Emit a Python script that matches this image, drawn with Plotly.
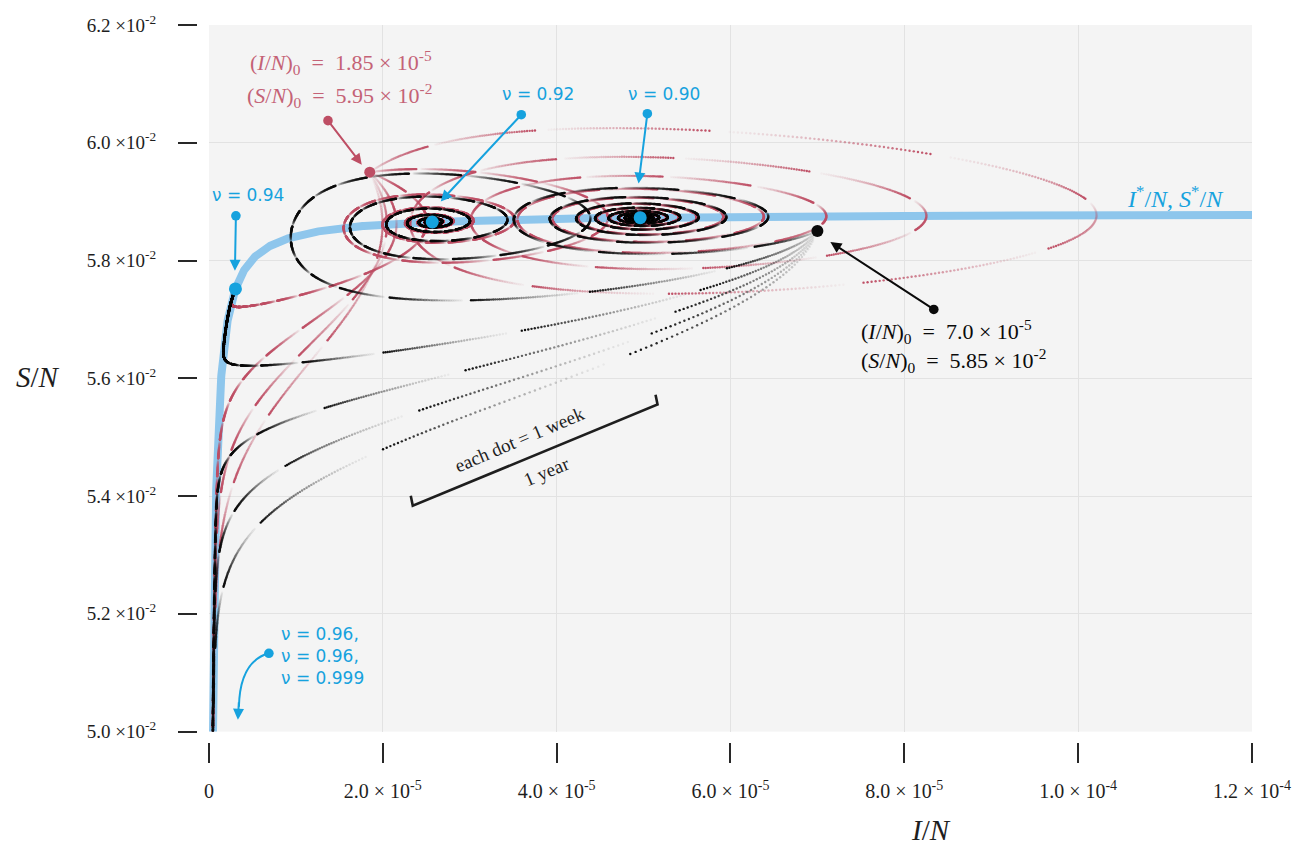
import numpy as np
import plotly.graph_objects as go

# ---------------------------------------------------------------
# SIR model with vaccination at birth (fraction nu) and a small
# constant import of infections.  Rates are per year.
# ---------------------------------------------------------------
MU = 0.02          # birth / death rate
BETA = 283.3       # transmission rate
GAMMA = 16.64      # recovery rate
IMPORT = 1.113e-6  # imported infections

NU_VALUES = [0.90, 0.92, 0.94, 0.96, 0.98, 0.999]
NU_MARKED = [0.90, 0.92, 0.94]

START_PINK = (1.85e-5, 5.95e-2)    # (I/N)_0, (S/N)_0
START_BLACK = (7.0e-5, 5.85e-2)

YEARS = 200
WEEKS_PER_YEAR = 52

X_TICKS = [0, 2e-5, 4e-5, 6e-5, 8e-5, 1e-4, 1.2e-4]
X_TICK_TEXT = ["0", "2.0 × 10<sup>-5</sup>", "4.0 × 10<sup>-5</sup>",
               "6.0 × 10<sup>-5</sup>", "8.0 × 10<sup>-5</sup>",
               "1.0 × 10<sup>-4</sup>", "1.2 × 10<sup>-4</sup>"]
Y_TICKS = [0.050, 0.052, 0.054, 0.056, 0.058, 0.060, 0.062]
Y_TICK_TEXT = ["5.0 ×10<sup>-2</sup>", "5.2 ×10<sup>-2</sup>", "5.4 ×10<sup>-2</sup>",
               "5.6 ×10<sup>-2</sup>", "5.8 ×10<sup>-2</sup>", "6.0 ×10<sup>-2</sup>",
               "6.2 ×10<sup>-2</sup>"]

X_RANGE = [0, 1.2e-4]
Y_RANGE = [0.050, 0.062]

PINK = "rgb(190,78,100)"
PINK_TEXT = "rgb(196,98,118)"
BLACK = "rgb(10,10,10)"
BLUE = "rgb(22,162,222)"
BLUE_LINE = "rgb(142,198,236)"
TEXT = "rgb(30,30,30)"
SERIF = "Liberation Serif, Times New Roman, serif"
NU_FONT = "DejaVu Sans, sans-serif"

S_INF = (GAMMA + MU) / BETA
C_IMP = IMPORT / BETA


def rhs(S, I, nu):
    inf = BETA * S * I
    return MU * (1 - nu) - inf - MU * S, inf - (GAMMA + MU) * I + IMPORT


def simulate(nus, s0, i0, years, sub=4):
    """RK4 integration, state recorded once per week."""
    nus = np.asarray(nus, float)
    h = 1.0 / (WEEKS_PER_YEAR * sub)
    n = years * WEEKS_PER_YEAR
    S = np.asarray(s0, float).copy()
    I = np.asarray(i0, float).copy()
    out_S = np.empty((n + 1, len(nus)))
    out_I = np.empty((n + 1, len(nus)))
    out_S[0], out_I[0] = S, I
    for k in range(1, n + 1):
        for _ in range(sub):
            a1, b1 = rhs(S, I, nus)
            a2, b2 = rhs(S + 0.5 * h * a1, I + 0.5 * h * b1, nus)
            a3, b3 = rhs(S + 0.5 * h * a2, I + 0.5 * h * b2, nus)
            a4, b4 = rhs(S + h * a3, I + h * b3, nus)
            S = S + h / 6 * (a1 + 2 * a2 + 2 * a3 + a4)
            I = I + h / 6 * (b1 + 2 * b2 + 2 * b3 + b4)
        out_S[k], out_I[k] = S, I
    return out_S, out_I


def equilibrium(nu):
    """Endemic equilibrium (I*, S*) by bisection on I."""
    lo, hi = C_IMP / S_INF * 1.0000001, 1e-3
    for _ in range(200):
        mid = 0.5 * (lo + hi)
        s = S_INF - C_IMP / mid
        g = mid * s - (MU / BETA) * (1 - nu - s)
        if g > 0:
            hi = mid
        else:
            lo = mid
    i = 0.5 * (lo + hi)
    return i, S_INF - C_IMP / i


# pixel scale of the plot area, used to skip dots hidden under the equilibrium markers
PX_X = 1044 / (X_RANGE[1] - X_RANGE[0])
PX_Y = 713 / (Y_RANGE[1] - Y_RANGE[0])

nus_all = NU_VALUES + NU_VALUES
s0_all = [START_PINK[1]] * len(NU_VALUES) + [START_BLACK[1]] * len(NU_VALUES)
i0_all = [START_PINK[0]] * len(NU_VALUES) + [START_BLACK[0]] * len(NU_VALUES)
S_runs, I_runs = simulate(nus_all, s0_all, i0_all, YEARS)

# each year fades in from transparent to full colour
weeks = np.arange(S_runs.shape[0])
phase = (weeks % WEEKS_PER_YEAR + 1) / WEEKS_PER_YEAR
alpha_all = phase ** 1.3

eq_points = {nu: equilibrium(nu) for nu in NU_VALUES}

fig = go.Figure()

# equilibrium locus I*/N, S*/N (I-nullcline)
i_curve = np.geomspace(C_IMP / (S_INF - Y_RANGE[0] + 0.0005), X_RANGE[1], 600)
s_curve = S_INF - C_IMP / i_curve
fig.add_trace(go.Scatter(x=i_curve, y=s_curve, mode="lines",
                         line=dict(color=BLUE_LINE, width=8),
                         hoverinfo="skip", showlegend=False))

# weekly dots of each trajectory: pink runs first, black on top
for j in range(len(nus_all)):
    nu = nus_all[j]
    colour = PINK if j < len(NU_VALUES) else BLACK
    x = I_runs[:, j]
    y = S_runs[:, j]
    keep = (x >= X_RANGE[0]) & (x <= X_RANGE[1]) & (y >= Y_RANGE[0]) & (y <= Y_RANGE[1])
    keep &= alpha_all > 0.04
    if nu in NU_MARKED:
        ei, es = eq_points[nu]
        dist = np.hypot((x - ei) * PX_X, (y - es) * PX_Y)
        keep &= dist > 5
    fig.add_trace(go.Scatter(
        x=x[keep], y=y[keep], mode="markers",
        marker=dict(size=2.4, color=colour, opacity=alpha_all[keep], line=dict(width=0)),
        hoverinfo="skip", showlegend=False))

# equilibria and initial conditions
fig.add_trace(go.Scatter(x=[eq_points[nu][0] for nu in NU_MARKED],
                         y=[eq_points[nu][1] for nu in NU_MARKED],
                         mode="markers", marker=dict(size=13, color=BLUE),
                         hoverinfo="skip", showlegend=False))
fig.add_trace(go.Scatter(x=[START_PINK[0]], y=[START_PINK[1]], mode="markers",
                         marker=dict(size=11, color=PINK),
                         hoverinfo="skip", showlegend=False))
fig.add_trace(go.Scatter(x=[START_BLACK[0]], y=[START_BLACK[1]], mode="markers",
                         marker=dict(size=12, color=BLACK),
                         hoverinfo="skip", showlegend=False))

# page geometry
W, H = 1303, 856
ML, MR, MT, MB = 150, 50, 18, 60
PW, PH = W - ML - MR, H - MT - MB


# helpers placing annotations by pixel position on the page
def px(v):
    return X_RANGE[0] + (v - 209) / PX_X


def py(v):
    return Y_RANGE[1] - (v - 18) / PX_Y


def paper_x(v):
    return (v - ML) / PW


def paper_y(v):
    return (H - MB - v) / PH


annotations = []


def label(text, x, y, colour, size=20, xanchor="center", angle=0, family=SERIF):
    annotations.append(dict(text=text, x=paper_x(x), y=paper_y(y), xref="paper", yref="paper",
                            showarrow=False, xanchor=xanchor, yanchor="middle",
                            textangle=angle, align="left",
                            font=dict(family=family, size=size, color=colour)))


def arrow(tail, head, colour, width=2.0):
    annotations.append(dict(text="", x=px(head[0]), y=py(head[1]),
                            ax=px(tail[0]), ay=py(tail[1]), xref="x", yref="y",
                            axref="x", ayref="y", showarrow=True,
                            arrowhead=2, arrowsize=1.1, arrowwidth=width,
                            arrowcolor=colour, arrowside="end+start",
                            startarrowhead=6, startarrowsize=1.2, standoff=0, startstandoff=0))


label("(<i>I</i>/<i>N</i>)<sub>0</sub>  =  1.85 × 10<sup>-5</sup>", 248, 56, PINK_TEXT, size=22, xanchor="left")
label("(<i>S</i>/<i>N</i>)<sub>0</sub>  =  5.95 × 10<sup>-2</sup>", 245, 89, PINK_TEXT, size=22, xanchor="left")
arrow((327, 113), (362, 159), PINK)

label("ν = 0.92", 538, 88, BLUE, size=17, family=NU_FONT)
arrow((523, 107), (441, 196), BLUE)
label("ν = 0.90", 664, 88, BLUE, size=17, family=NU_FONT)
arrow((648, 106), (639, 178), BLUE)
label("ν = 0.94", 248, 190, BLUE, size=17, family=NU_FONT)
arrow((236, 209), (235, 266), BLUE)
label("ν = 0.96,<br>ν = 0.96,<br>ν = 0.999", 279, 655, BLUE, size=17, xanchor="left", family=NU_FONT)
annotations.append(dict(text="", x=px(238), y=py(719), ax=px(239), ay=py(700),
                        xref="x", yref="y", axref="x", ayref="y", showarrow=True,
                        arrowhead=2, arrowsize=1.1, arrowwidth=2, arrowcolor=BLUE))
annotations.append(dict(text="", x=px(269), y=py(652), ax=px(269), ay=py(652),
                        xref="x", yref="y", axref="x", ayref="y", showarrow=True,
                        arrowhead=0, arrowwidth=2, arrowcolor=BLUE,
                        arrowside="start", startarrowhead=6, startarrowsize=1.2))

label("<i>I</i><sup>*</sup>/<i>N</i>, <i>S</i><sup>*</sup>/<i>N</i>", 1176, 192, BLUE, size=24)

label("(<i>I</i>/<i>N</i>)<sub>0</sub>  =  7.0 × 10<sup>-5</sup>", 860, 327, BLACK, size=22, xanchor="left")
label("(<i>S</i>/<i>N</i>)<sub>0</sub>  =  5.85 × 10<sup>-2</sup>", 860, 357, BLACK, size=22, xanchor="left")
arrow((936, 306), (831, 237), BLACK)

label("each dot = 1 week", 520, 436, TEXT, size=19, angle=-23)
label("1 year", 547, 469, TEXT, size=19, angle=-23)

label("<i>S</i>/<i>N</i>", 38, 373, TEXT, size=29)
label("<i>I</i>/<i>N</i>", 932, 830, TEXT, size=29)

shapes = [
    # one-year bracket
    dict(type="path", xref="x", yref="y",
         path=f"M {px(411)},{py(493)} L {px(413)},{py(503)} L {px(658)},{py(401)} L {px(656)},{py(391)}",
         line=dict(color=TEXT, width=2.6)),
    # curved pointer towards the equilibria below the axis range
    dict(type="path", xref="x", yref="y",
         path=f"M {px(269)},{py(652)} Q {px(240)},{py(660)} {px(239)},{py(706)}",
         line=dict(color=BLUE, width=2)),
]

fig.update_layout(
    width=W, height=H,
    margin=dict(l=ML, r=MR, t=MT, b=MB),
    paper_bgcolor="white", plot_bgcolor="rgb(244,244,244)",
    showlegend=False,
    annotations=annotations, shapes=shapes,
    xaxis=dict(range=X_RANGE, domain=[(209 - ML) / PW, 1],
               anchor="free", position=(H - MB - 742) / PH,
               tickvals=X_TICKS, ticktext=X_TICK_TEXT,
               ticks="outside", ticklen=20, tickwidth=1.5, tickcolor="rgb(40,40,40)",
               ticklabelstandoff=11,
               showline=False, zeroline=False,
               showgrid=True, gridcolor="rgb(226,226,226)", gridwidth=1,
               tickfont=dict(family=SERIF, size=20, color=TEXT)),
    yaxis=dict(range=Y_RANGE, domain=[(H - MB - 731) / PH, 1],
               anchor="free", position=(197 - ML) / PW,
               tickvals=Y_TICKS, ticktext=Y_TICK_TEXT,
               ticks="outside", ticklen=19, tickwidth=1.5, tickcolor="rgb(40,40,40)",
               ticklabelstandoff=18,
               showline=False, zeroline=False,
               showgrid=True, gridcolor="rgb(226,226,226)", gridwidth=1,
               tickfont=dict(family=SERIF, size=19, color=TEXT)),
)

fig.write_html("out.html")
